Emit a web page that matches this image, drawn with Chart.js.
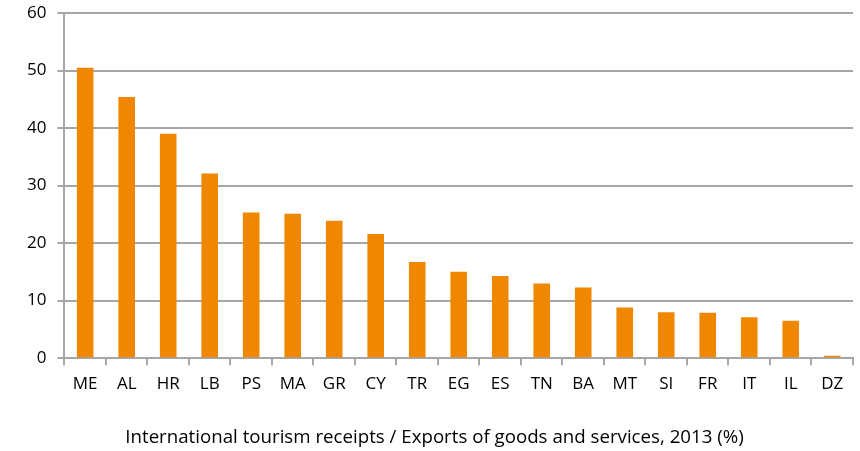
<!DOCTYPE html>
<html lang="en">
<head>
    <meta charset="UTF-8">
    <title>Tourism receipts</title>
    <script src="https://cdn.jsdelivr.net/npm/chart.js"></script>
    <style>
        html, body { margin: 0; padding: 0; background: white; }
        #wrap { width: 860px; height: 451px; }
    </style>
</head>
<body>
    <div id="wrap"><canvas id="tourismChart"></canvas></div>
    <script>
        const countries = ['ME', 'AL', 'HR', 'LB', 'PS', 'MA', 'GR', 'CY', 'TR', 'EG', 'ES', 'TN', 'BA', 'MT', 'SI', 'FR', 'IT', 'IL', 'DZ'];
        const receiptShare = [50.5, 45.4, 39.0, 32.1, 25.3, 25.1, 23.9, 21.6, 16.7, 15.0, 14.3, 13.0, 12.3, 8.8, 8.0, 7.9, 7.1, 6.5, 0.4];
        const yTicks = [0, 10, 20, 30, 40, 50, 60];
        const axisTitle = 'International tourism receipts / Exports of goods and services, 2013 (%)';

        const font = "'Open Sans', 'Liberation Sans', sans-serif";
        const grey = '#a6a6a6';

        new Chart(document.getElementById('tourismChart'), {
            type: 'bar',
            data: {
                labels: countries,
                datasets: [{
                    data: receiptShare,
                    backgroundColor: '#f08700',
                    barPercentage: 0.4,
                    categoryPercentage: 1.0
                }]
            },
            options: {
                responsive: true,
                maintainAspectRatio: false,
                animation: false,
                layout: { padding: { top: 13, right: 7, bottom: 2, left: 16 } },
                plugins: {
                    legend: { display: false },
                    tooltip: { enabled: false },
                    title: {
                        display: true,
                        position: 'bottom',
                        text: axisTitle,
                        color: '#000',
                        font: { family: font, size: 18.7, weight: 'normal' },
                        padding: { top: 23, bottom: 0 }
                    }
                },
                scales: {
                    x: {
                        offset: true,
                        grid: { display: true, offset: true, drawOnChartArea: false, color: grey, lineWidth: 2, tickLength: 7 },
                        border: { color: grey, width: 2 },
                        ticks: { color: '#000', font: { family: font, size: 17 }, padding: 9, maxRotation: 0, autoSkip: false }
                    },
                    y: {
                        min: 0,
                        max: 60,
                        afterBuildTicks: axis => { axis.ticks = yTicks.map(v => ({ value: v })); },
                        afterFit: axis => { axis.paddingTop = 0; },
                        grid: { color: grey, lineWidth: 2, tickLength: 7 },
                        border: { color: grey, width: 2 },
                        ticks: { color: '#000', font: { family: font, size: 17 }, padding: 11 }
                    }
                }
            }
        });
    </script>
</body>
</html>
